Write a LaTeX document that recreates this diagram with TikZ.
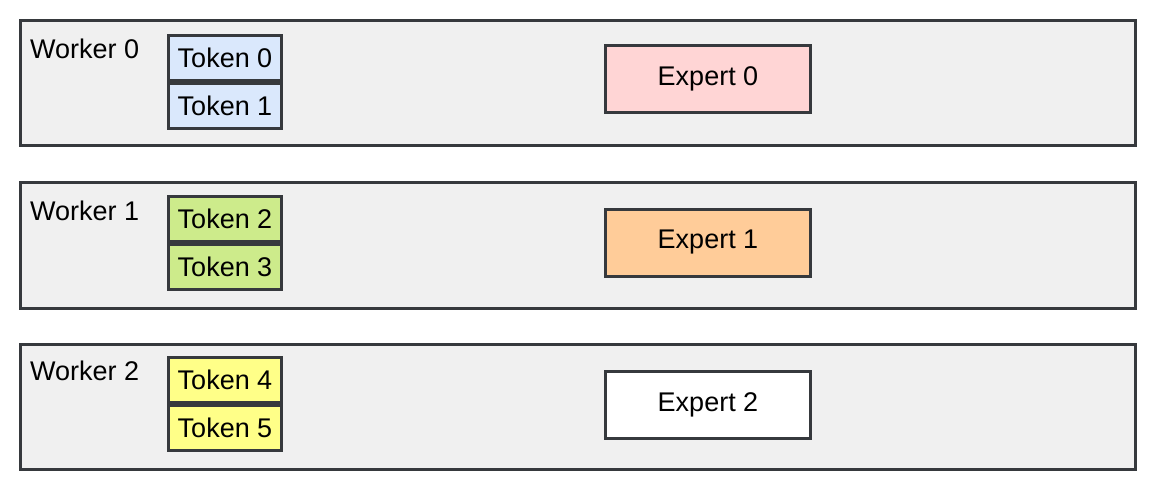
\documentclass[tikz,border=0pt]{standalone}
\usepackage{fontspec}
\setmainfont{Liberation Sans}
\definecolor{edge}{HTML}{36393D}
\definecolor{wfill}{HTML}{F0F0F0}
\definecolor{tblue}{HTML}{DAE8FC}
\definecolor{tgreen}{HTML}{CDEB8B}
\definecolor{tyellow}{HTML}{FFFF88}
\definecolor{epink}{HTML}{FFD5D5}
\definecolor{eorange}{HTML}{FFCC99}
\begin{document}
\begin{tikzpicture}[x=1pt,y=1pt,
  worker/.style={draw=edge,fill=wfill,line width=3pt,minimum width=1115pt,minimum height=125pt,inner sep=0pt,anchor=north west},
  tok/.style={draw=edge,line width=3pt,minimum width=113pt,minimum height=45pt,inner sep=0pt,font=\fontsize{27}{32}\selectfont},
  expert/.style={draw=edge,line width=3pt,minimum width=205pt,minimum height=67pt,inner sep=0pt,font=\fontsize{27}{32}\selectfont},
  wlabel/.style={anchor=base west,inner sep=0pt,font=\fontsize{27}{32}\selectfont}]
\useasboundingbox (0,0) rectangle (1150,488);
% workers
\node[worker] (w0) at (18.5,468.5) {};
\node[worker] (w1) at (18.5,306.5) {};
\node[worker] (w2) at (18.5,145.5) {};
\node[wlabel] (l0) at (30,429) {Worker 0};
\node[wlabel] (l1) at (30,268) {Worker 1};
\node[wlabel] (l2) at (30,108) {Worker 2};
% tokens
\node[tok,fill=tblue] (t0) at (225,430) {Token 0};
\node[tok,fill=tblue,anchor=north] (t1) at (t0.south) {Token 1};
\node[tok,fill=tgreen] (t2) at (225,269) {Token 2};
\node[tok,fill=tgreen,anchor=north] (t3) at (t2.south) {Token 3};
\node[tok,fill=tyellow] (t4) at (225,108) {Token 4};
\node[tok,fill=tyellow,anchor=north] (t5) at (t4.south) {Token 5};
% experts
\node[expert,fill=epink] (e0) at (708,409) {Expert 0};
\node[expert,fill=eorange] (e1) at (708,245.5) {Expert 1};
\node[expert,fill=white] (e2) at (708,83.5) {Expert 2};
\end{tikzpicture}
\end{document}
